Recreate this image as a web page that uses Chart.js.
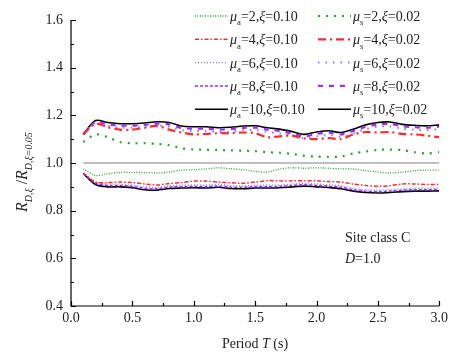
<!DOCTYPE html>
<html>
<head>
<meta charset="utf-8">
<script src="https://cdn.jsdelivr.net/npm/chart.js@4"></script>
<style>
  html, body { margin: 0; padding: 0; background: #fff; }
  #wrap { width: 452px; height: 354px; position: relative; }
</style>
</head>
<body>
<div id="wrap"><canvas id="myChart" width="452" height="354"></canvas></div>
<script>
// periods (s)
const periods = [0.1,0.2,0.3,0.4,0.5,0.6,0.7,0.8,0.9,1.0,1.1,1.2,1.3,1.4,1.5,1.6,1.7,1.8,1.9,2.0,2.1,2.2,2.3,2.4,2.5,2.6,2.7,2.8,2.9,3.0];

// xi = 0.10 (below 1.0)
const mu2_010  = [0.975,0.948,0.955,0.960,0.960,0.960,0.958,0.962,0.970,0.972,0.975,0.980,0.976,0.972,0.965,0.962,0.975,0.980,0.978,0.980,0.978,0.975,0.975,0.968,0.962,0.958,0.962,0.968,0.970,0.970];
const mu4_010  = [0.958,0.920,0.918,0.920,0.918,0.912,0.908,0.914,0.918,0.924,0.924,0.920,0.917,0.915,0.920,0.926,0.925,0.925,0.926,0.925,0.922,0.920,0.912,0.906,0.902,0.905,0.912,0.912,0.910,0.910];
const mu6_010  = [0.957,0.921,0.912,0.911,0.907,0.900,0.898,0.905,0.907,0.908,0.907,0.910,0.905,0.904,0.907,0.907,0.908,0.912,0.915,0.912,0.909,0.904,0.894,0.888,0.886,0.888,0.892,0.894,0.894,0.895];
const mu8_010  = [0.956,0.916,0.906,0.906,0.902,0.894,0.892,0.899,0.901,0.902,0.901,0.904,0.899,0.898,0.901,0.901,0.902,0.906,0.909,0.906,0.903,0.898,0.888,0.882,0.880,0.882,0.886,0.888,0.888,0.889];
const mu10_010 = [0.956,0.910,0.900,0.900,0.896,0.888,0.886,0.893,0.895,0.896,0.895,0.898,0.893,0.892,0.895,0.895,0.896,0.900,0.903,0.900,0.897,0.892,0.882,0.876,0.874,0.876,0.880,0.882,0.882,0.883];

// xi = 0.02 (above 1.0)
const mu2_002  = [1.088,1.120,1.108,1.088,1.083,1.083,1.080,1.075,1.062,1.057,1.055,1.055,1.053,1.052,1.050,1.045,1.043,1.038,1.030,1.027,1.026,1.027,1.040,1.048,1.055,1.056,1.054,1.045,1.040,1.045];
const mu4_002  = [1.120,1.165,1.150,1.140,1.140,1.148,1.156,1.140,1.128,1.120,1.122,1.125,1.125,1.128,1.125,1.108,1.112,1.115,1.103,1.100,1.105,1.100,1.120,1.130,1.128,1.130,1.122,1.120,1.115,1.108];
const mu6_002  = [1.120,1.168,1.155,1.148,1.148,1.152,1.158,1.152,1.138,1.134,1.134,1.130,1.132,1.137,1.138,1.130,1.124,1.115,1.104,1.112,1.117,1.110,1.124,1.142,1.152,1.154,1.144,1.140,1.138,1.142];
const mu8_002  = [1.120,1.172,1.162,1.157,1.157,1.160,1.165,1.162,1.147,1.144,1.144,1.140,1.142,1.147,1.148,1.140,1.134,1.124,1.112,1.122,1.127,1.120,1.134,1.152,1.162,1.164,1.154,1.150,1.148,1.152];
const mu10_002 = [1.120,1.178,1.170,1.165,1.165,1.168,1.173,1.170,1.155,1.152,1.152,1.148,1.150,1.155,1.156,1.148,1.142,1.132,1.120,1.130,1.135,1.128,1.142,1.160,1.170,1.172,1.162,1.158,1.156,1.160];

// reference line
const refX = [0.1, 3.0];
const refY = [1.0, 1.0];

const xTicks = [0.0, 0.5, 1.0, 1.5, 2.0, 2.5, 3.0];
const yTicks = [0.4, 0.6, 0.8, 1.0, 1.2, 1.4, 1.6];

const SERIF = "'Liberation Serif', 'DejaVu Serif', serif";
const GREEN = '#2ea02e', RED = '#ff2a2a', BLUE = '#7b7bff', PURPLE = '#9a2cff';

const styles = [
  // [data, colour, dash, width, mu, xi]
  [mu2_010,  GREEN,  [1, 1.5],        1.3, '2', '0.10'],
  [mu2_002,  GREEN,  [2, 6],          2.2, '2', '0.02'],
  [mu4_010,  RED,    [4, 2, 1.5, 2],  1.5, '4', '0.10'],
  [mu4_002,  RED,    [8, 4, 2, 4],    2.2, '4', '0.02'],
  [mu6_010,  BLUE,   [1, 2],          1.3, '6', '0.10'],
  [mu6_002,  BLUE,   [1.5, 6],        2.0, '6', '0.02'],
  [mu8_010,  PURPLE, [3, 2],          1.5, '8', '0.10'],
  [mu8_002,  PURPLE, [5, 6],          2.2, '8', '0.02'],
  [mu10_010, '#000', [],              1.6, '10', '0.10'],
  [mu10_002, '#000', [],              1.6, '10', '0.02']
];

const datasets = [{
  label: 'ref',
  data: refX.map((x, i) => ({x: x, y: refY[i]})),
  borderColor: '#aaaaaa',
  borderWidth: 1.5,
  pointRadius: 0
}];
styles.forEach(s => {
  datasets.push({
    label: 'mu=' + s[4] + ',xi=' + s[5],
    data: periods.map((p, i) => ({x: p, y: s[0][i]})),
    borderColor: s[1],
    borderDash: s[2],
    borderWidth: s[3],
    pointRadius: 0,
    tension: 0.3
  });
});

// draw text made of pieces (italic, subscript)
function drawRich(ctx, x, y, parts, size) {
  parts.forEach(p => {
    const fs = p.sub ? size * 0.62 : size;
    ctx.font = (p.it ? 'italic ' : '') + fs + 'px ' + SERIF;
    ctx.fillText(p.t, x, y + (p.sub ? size * 0.3 : 0));
    x += ctx.measureText(p.t).width;
  });
  return x;
}

const extras = {
  id: 'extras',
  afterDraw(chart) {
    const ctx = chart.ctx;
    const xs = chart.scales.x, ys = chart.scales.y;
    const area = chart.chartArea;
    ctx.save();
    ctx.strokeStyle = '#000';
    ctx.lineWidth = 1.2;
    // axis lines
    ctx.beginPath();
    ctx.moveTo(area.left, area.top);
    ctx.lineTo(area.left, area.bottom);
    ctx.lineTo(area.right, area.bottom);
    ctx.stroke();
    // inward ticks
    ctx.beginPath();
    for (let v = 0.4; v <= 1.6001; v += 0.1) {
      const py = Math.round(ys.getPixelForValue(v)) + 0.5;
      const major = Math.round(v * 10) % 2 === 0;
      ctx.moveTo(area.left, py);
      ctx.lineTo(area.left + (major ? 5 : 3), py);
    }
    for (let v = 0; v <= 3.0001; v += 0.25) {
      const px = Math.round(xs.getPixelForValue(v)) + 0.5;
      const major = Math.round(v * 4) % 2 === 0;
      ctx.moveTo(px, area.bottom);
      ctx.lineTo(px, area.bottom - (major ? 5 : 3));
    }
    ctx.stroke();

    ctx.fillStyle = '#222';
    ctx.textBaseline = 'alphabetic';
    ctx.textAlign = 'left';

    // legend
    for (let i = 0; i < styles.length; i++) {
      const s = styles[i];
      const col = i % 2, row = Math.floor(i / 2);
      const y = 16 + row * 23.3;
      const x0 = col === 0 ? 195 : 318;
      ctx.strokeStyle = s[1];
      ctx.lineWidth = s[3];
      ctx.setLineDash(s[2]);
      ctx.beginPath();
      ctx.moveTo(x0, y);
      ctx.lineTo(x0 + 33, y);
      ctx.stroke();
      ctx.setLineDash([]);
      drawRich(ctx, x0 + 35, y + 5, [
        {t: 'μ', it: true}, {t: col === 0 ? 'a' : 's', sub: true},
        {t: '=' + s[4] + ','}, {t: 'ξ', it: true}, {t: '=' + s[5]}
      ], 14);
    }

    // annotation
    ctx.font = '14px ' + SERIF;
    ctx.fillText('Site class C', 345, 242);
    drawRich(ctx, 345, 263, [{t: 'D', it: true}, {t: '=1.0'}], 14);

    // x title
    ctx.font = '14px ' + SERIF;
    const w = ctx.measureText('Period ').width + ctx.measureText(' (s)').width;
    ctx.font = 'italic 14px ' + SERIF;
    const wt = ctx.measureText('T').width;
    drawRich(ctx, 255 - (w + wt) / 2, 348, [{t: 'Period '}, {t: 'T', it: true}, {t: ' (s)'}], 14);

    // y title
    ctx.translate(27, 212);
    ctx.rotate(-Math.PI / 2);
    drawRich(ctx, 0, 0, [
      {t: 'R', it: true}, {t: 'D,ξ', sub: true, it: true}, {t: ' /'},
      {t: 'R', it: true}, {t: 'D,ξ=0.05', sub: true, it: true}
    ], 16);
    ctx.restore();
  }
};

const config = {
  type: 'line',
  data: { datasets: datasets },
  options: {
    responsive: false,
    animation: false,
    layout: { padding: { top: 20, right: 3, left: 1, bottom: 0 } },
    plugins: { legend: { display: false }, tooltip: { enabled: false } },
    scales: {
      x: {
        type: 'linear', min: 0, max: 3,
        afterBuildTicks: s => { s.ticks = xTicks.map(v => ({value: v})); },
        afterFit: s => { s.height = 48; },
        grid: { display: false, drawTicks: false },
        border: { display: false },
        ticks: { color: '#222', padding: 4, font: { family: SERIF, size: 14 },
                 callback: v => v.toFixed(1) }
      },
      y: {
        type: 'linear', min: 0.4, max: 1.6,
        afterBuildTicks: s => { s.ticks = yTicks.map(v => ({value: v})); },
        afterFit: s => { s.width = 70; },
        grid: { display: false, drawTicks: false },
        border: { display: false },
        ticks: { color: '#222', padding: 8, font: { family: SERIF, size: 14 },
                 callback: v => v.toFixed(1) }
      }
    }
  },
  plugins: [extras]
};

const myChart = new Chart(document.getElementById('myChart').getContext('2d'), config);
</script>
</body>
</html>
